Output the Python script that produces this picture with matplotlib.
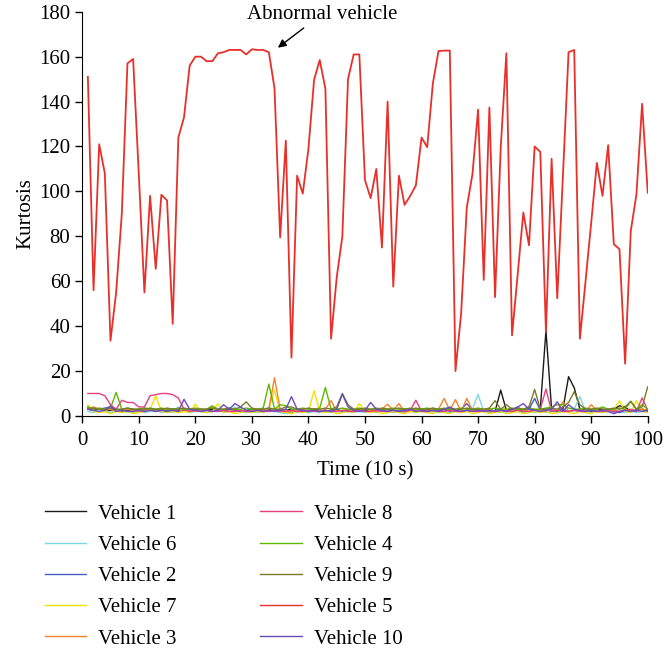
import numpy as np
import matplotlib
matplotlib.use('Agg')
import matplotlib.pyplot as plt

plt.rcParams['font.family'] = ['Liberation Serif', 'DejaVu Serif']
plt.rcParams['font.size'] = 15

# time steps (10 s)
t = np.arange(1, 101)

# kurtosis per vehicle
v1 = [3, 2.5, 3, 2, 2.5, 3, 2, 2.5, 3, 2,
      2.5, 3, 2, 2.5, 2, 3, 2.5, 2, 3, 2.5,
      2, 2.5, 3, 2, 2.5, 3, 2, 2.5, 2, 3,
      2.5, 2, 3, 2.5, 2, 2.5, 3, 2, 2.5, 2,
      3, 2.5, 2, 2.5, 3, 2, 2.5, 2, 3, 2.5,
      2, 2.5, 3, 2, 2.5, 2, 3, 2.5, 2, 2.5,
      3, 2, 2.5, 2, 3, 2.5, 2, 2.5, 3, 2,
      2.5, 3, 2, 11.5, 2.5, 3, 2, 2.5, 4, 2,
      3, 38, 3, 2, 3, 17.5, 12.5, 3, 2.5, 2,
      2.5, 3, 2, 3, 4.5, 4, 2, 2.5, 3, 2.5]
v6 = [2, 1.5, 3, 2, 1.5, 2.5, 1.5, 2, 1.5, 2,
      1.5, 2, 2.5, 1.5, 2, 1.5, 4, 2.5, 1.5, 2,
      2, 1.5, 2, 3, 1.5, 2, 4, 2, 1.5, 2,
      1.5, 2, 4, 2, 1.5, 1, 2, 1.5, 2, 1.5,
      2, 1.5, 2, 1.5, 2, 1.5, 2, 1.5, 2, 1.5,
      2, 1.5, 2, 2.5, 1.5, 2, 1.5, 2, 1.5, 2,
      1.5, 2, 1.5, 2, 1.5, 2, 1.5, 2, 3, 9.6,
      2, 1.5, 2, 1.5, 2, 1.5, 2, 1.5, 2, 1.5,
      2, 1.5, 2, 1.5, 2, 2, 3, 8.6, 2, 1.5,
      2, 1.5, 2, 1.5, 2, 1.5, 2, 1.5, 2, 1.5]
v2 = [4, 3.5, 3, 3.5, 4, 3, 2.5, 3, 2.5, 3,
      3.5, 3, 2.5, 3, 2.5, 3, 2, 2.5, 3, 2.5,
      3, 2.5, 2, 2.5, 2, 3, 2.5, 2, 2.5, 3,
      2.5, 3, 2, 2.5, 3, 2, 1, 2.5, 2, 2.5,
      3, 2.5, 2, 2.5, 3, 2, 2.5, 2, 2.5, 3,
      2.5, 2, 2.5, 3, 2, 2.5, 2, 2.5, 2, 3,
      2.5, 2, 2.5, 3, 2, 2.5, 3, 5.5, 2.5, 2,
      2.5, 2, 2.5, 3, 2, 2.5, 3, 2, 3, 7.8,
      2.5, 3, 2, 2.5, 3, 2, 2.5, 2, 3, 2.5,
      2, 2.5, 3, 2, 1.5, 2.5, 2, 3, 2.5, 2]
v7 = [5, 2, 1.5, 2, 1, 2, 1.5, 2, 1, 1.5,
      2, 3, 9, 2, 1.5, 2, 1.5, 2, 1.5, 5.3,
      2, 1.5, 2, 5.5, 1.5, 2, 1, 1.5, 2, 1.5,
      2, 1.5, 3, 11.5, 2, 1.5, 1, 2, 1.5, 2,
      11.2, 2, 1.5, 2, 1, 1.5, 2, 1.5, 5.5, 2,
      1.5, 2, 1, 1.5, 2, 1.5, 1, 2, 1.5, 2,
      1.5, 1, 2, 1.5, 1, 2, 1.5, 2, 1, 1.5,
      2, 1, 1.5, 2, 1, 1.5, 2, 1, 1.5, 2,
      1.5, 2, 1, 1.5, 2, 1.5, 1, 2, 1.5, 1,
      2, 1.5, 2, 3, 6.8, 2, 1.5, 6.8, 2, 1.5]
v3 = [3, 4, 3, 2.5, 3, 2, 2.5, 3, 2.5, 2,
      2.5, 3, 2, 2.5, 3, 2.5, 2, 3, 2.5, 2,
      2.5, 3, 4, 3, 2.5, 2, 3, 2.5, 2, 2.5,
      3, 2.5, 3, 17, 3, 2.5, 2, 2.5, 3, 2,
      2.5, 2, 3, 6.8, 2, 2.5, 3, 2, 2.5, 3,
      2.5, 2, 3, 5.2, 2.5, 5.5, 2, 2.5, 3, 2,
      2.5, 2, 3, 7.8, 2.5, 7.3, 2, 7.8, 2.5, 2,
      2.5, 3, 2, 2.5, 3, 2, 4, 2.5, 2, 3,
      2.5, 2, 3, 2.5, 6.3, 2, 2.5, 3, 2, 5,
      2.5, 2, 3, 2.5, 2, 3, 2.5, 2, 3, 2.5]
v8 = [10, 10, 10, 9, 5, 3, 7, 6, 6, 4,
      4, 9, 9.5, 10, 10, 9.5, 8, 3, 2, 2.5,
      2, 2.5, 2, 2, 2.5, 2, 2, 2.5, 2, 2,
      2.5, 2, 2, 2.5, 2, 2, 2.5, 2, 2, 2.5,
      2, 2, 2.5, 2, 2, 2.5, 2, 2, 2.5, 2,
      2, 2.5, 2, 2, 2.5, 2, 2, 2.5, 7, 2,
      2, 3.5, 2, 2, 2.5, 2, 2, 2.5, 2, 2,
      2.5, 2, 2, 2.5, 2, 2, 2.5, 2, 2, 2.5,
      3, 12, 2, 2.5, 2, 2, 2.5, 2, 2, 2.5,
      2, 2, 2.5, 2, 2, 2.5, 3, 2, 8, 2.5]
v4 = [4, 3, 3.5, 3, 3.5, 10.5, 3, 3.5, 3, 3,
      3.5, 3, 3, 3.5, 3, 3, 3.5, 3, 3, 3.5,
      3, 3, 4.5, 3, 3, 3.5, 3, 3, 3.5, 3,
      3, 3.5, 14.2, 3, 5, 4.5, 3, 3, 3.5, 3,
      3, 3.5, 12.7, 3, 3, 3.5, 3, 3, 3.5, 3,
      3, 3.5, 3, 3, 3.5, 3, 3, 3.5, 3, 3,
      3.5, 3, 3, 3.5, 3, 3, 3.5, 3, 3, 3.5,
      3, 3, 3.5, 3, 3, 3.5, 3, 3, 3.5, 3,
      3, 3.5, 4, 5, 5, 3.5, 3, 3, 3.5, 3,
      3, 4, 3, 3, 3.5, 3, 6.5, 3, 5, 3]
v9 = [3, 3.5, 3, 3, 3.5, 3, 3, 3.5, 3, 3,
      3, 3.5, 3, 3, 3.5, 3, 3, 3.5, 3, 3,
      3, 3, 3.5, 3, 3, 3.5, 3, 4, 6.3, 3.5,
      3, 3, 3.5, 3, 3, 4, 4, 3, 3, 3.5,
      3, 3, 3.5, 3, 4, 10, 5, 3, 3, 3.5,
      3, 3, 3.5, 3, 3, 3.5, 3, 3, 3.5, 3,
      3, 3.5, 3, 3, 3.5, 3, 3, 3.5, 3, 3,
      3, 3.5, 6.8, 3, 5, 3, 3.5, 3, 4, 11.8,
      3, 3, 3.5, 3, 4, 6, 10.8, 5, 3, 3,
      3.5, 3, 3, 3.5, 3, 4, 6.5, 3, 4, 13]
v5 = [151, 56, 121, 108, 33.5, 55, 90, 157, 159, 108,
      55, 98, 65.5, 98.5, 96, 41, 124, 133, 156, 160,
      160, 158, 158, 161.5, 162, 163, 163, 163, 161, 163.3,
      163, 163, 162, 146, 79.5, 122.6, 26, 107, 99, 119,
      149.7, 158.5, 145.7, 34.4, 61.7, 80, 150, 161, 161, 105,
      97, 110, 75, 140, 57.6, 107, 94, 98, 102.7, 124,
      119.7, 148, 162.5, 162.7, 162.7, 20, 45.6, 92.8, 107.6, 136.4,
      60.6, 137.4, 52.9, 119.4, 161.5, 35.9, 63, 90.6, 76, 120,
      117.6, 37.4, 114.5, 52.4, 107, 162, 163, 34.4, 60, 86,
      112.7, 98, 120.6, 76.5, 74.3, 23.3, 82.4, 98.7, 139, 99.4]
v10 = [3, 2.5, 2, 2.5, 4.5, 2, 2.5, 2, 2, 2.5,
       2, 2.5, 2, 2.5, 2, 2.5, 2, 7.4, 3, 2.5,
       2, 2.5, 2, 2.5, 5, 3, 5.5, 4, 2.5, 2,
       2.5, 2, 2.5, 2, 2.5, 3, 8.6, 3, 2.5, 2,
       2.5, 2, 2.5, 2, 3, 9.7, 4, 2.5, 2, 2.5,
       6, 3, 2.5, 2, 2.5, 2, 2.5, 3, 2, 2.5,
       2, 2.5, 2, 3, 4, 2.5, 2, 2.5, 2, 2.5,
       2, 2.5, 2, 2.5, 2, 3, 4, 5.5, 3, 2.5,
       2, 2.5, 3, 6.3, 2, 5, 3, 2.5, 2, 2.5,
       2, 2.5, 2, 1, 2, 2.5, 2, 2.5, 2, 2.5]

labels = ['Vehicle 1', 'Vehicle 6', 'Vehicle 2', 'Vehicle 7', 'Vehicle 3',
          'Vehicle 8', 'Vehicle 4', 'Vehicle 9', 'Vehicle 5', 'Vehicle 10']
series = [v1, v6, v2, v7, v3, v8, v4, v9, v5, v10]
colors = ['#1a1a1a', '#7fd6e6', '#4a5cc0', '#f2e400', '#f5822a',
          '#e8407f', '#5cb800', '#7a7a2a', '#e8302a', '#6a4cc0']

fig = plt.figure(figsize=(6.63, 6.54), dpi=100)
ax = fig.add_axes([0.124, 0.364, 0.853, 0.618])

for y, c, lab in zip(series, colors, labels):
    lw = 1.3 if lab == 'Vehicle 5' else 1.0
    ax.plot(t, y, color=c, lw=lw, label=lab)

ax.set_xlim(0, 100)
ax.set_ylim(0, 180)
ax.set_xticks(np.arange(0, 101, 10))
ax.set_yticks(np.arange(0, 181, 20))
ax.spines['top'].set_visible(False)
ax.spines['right'].set_visible(False)
ax.tick_params(direction='out', length=5, width=1)
ax.tick_params(axis='x', pad=6)
ax.set_xlabel('Time (10 s)', labelpad=8)
ax.set_ylabel('Kurtosis', labelpad=3)

ax.annotate('Abnormal vehicle', xy=(34.6, 164), xytext=(42.4, 179),
            ha='center', va='center', annotation_clip=False,
            arrowprops=dict(arrowstyle='-|>', color='black', lw=1,
                            mutation_scale=12, shrinkA=2, shrinkB=0))

handles, names = ax.get_legend_handles_labels()
leg = fig.legend(handles, names, loc='upper left',
                 bbox_to_anchor=(0.039, 0.258), ncol=2, frameon=False,
                 handlelength=2.0, handletextpad=0.58, columnspacing=4.0,
                 labelspacing=0.56)
for h in leg.get_lines():
    h.set_linewidth(1.0)

fig.savefig('out.png', dpi=100)
